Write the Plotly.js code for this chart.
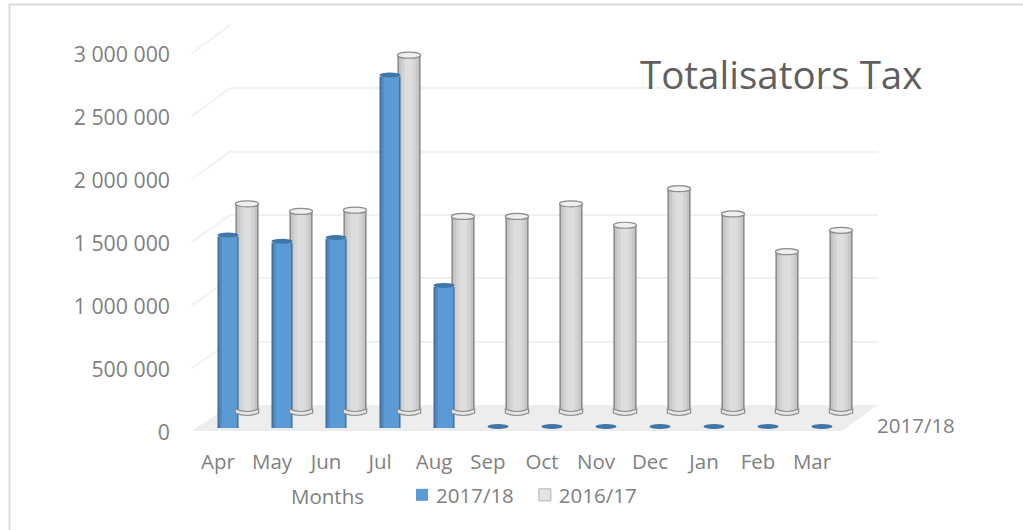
<!DOCTYPE html>
<html>
<head>
<meta charset="utf-8">
<script src="https://cdn.plot.ly/plotly-3.0.1.min.js"></script>
<style>html,body{margin:0;padding:0;background:#fff}#c{width:1023px;height:530px}</style>
</head>
<body>
<div id="c"></div>
<script>
var months = ['Apr','May','Jun','Jul','Aug','Sep','Oct','Nov','Dec','Jan','Feb','Mar'];
var values1718 = [1520000,1470000,1500000,2790000,1120000,0,0,0,0,0,0,0];
var values1617 = [1660000,1600000,1610000,2840000,1560000,1560000,1660000,1490000,1780000,1580000,1280000,1450000];
var tickVals = [0,500000,1000000,1500000,2000000,2500000,3000000];
var tickLabels = ['0','500 000','1 000 000','1 500 000','2 000 000','2 500 000','3 000 000'];
var nameA = '2017/18', nameB = '2016/17';
var W = 1023, H = 530;
var fx = function(p){return p/W;}, fy = function(p){return 1-p/H;};
var FONT = '"Open Sans", "Noto Sans", sans-serif', GREY = '#7f7f7f';
var yMax = 3000000;
var xr = [-0.5, 11.5];
var unitsPerPx = yMax/378, below = 10*unitsPerPx;

function dom(x0,x1){return [fx(x0),fx(x1)];}
function domY(bottom,top){return [fy(bottom),fy(top)];}
var hidden = {visible:true, showgrid:false, zeroline:false, showline:false, showticklabels:false, ticks:''};
function ax(o){return Object.assign({}, hidden, o);}

var idx = months.map(function(_,i){return i;});

function layers(xa, ya, values, defs, name){
  return defs.map(function(d,k){
    return {type:'bar', x:idx, y:values, xaxis:xa, yaxis:ya, name:name,
      width:d[1], offset:d[0], marker:{color:d[2], line:{width:0}},
      showlegend:false, hoverinfo:'skip'};
  });
}
var w1 = 0.39, w2 = 0.43;
var greyDefs = [
  [-w2/2, w2, '#8c8c8c'],
  [-w2/2+0.03, w2-0.06, '#c6c6c6'],
  [-w2/2+0.08, w2-0.16, '#d4d4d4'],
  [-w2/2+0.14, w2-0.28, '#dedede']
];
var blueDefs = [
  [-w1/2, w1, '#41719c'],
  [-w1/2+0.035, w1-0.06, '#4f8bc2'],
  [-w1/2+0.08, w1-0.11, '#5b9bd5']
];

var traces = [];
traces.push({type:'scatter', mode:'none', x:idx, y:idx.map(function(){return 0;}), xaxis:'x', yaxis:'y', showlegend:false, hoverinfo:'skip'});
traces = traces.concat(layers('x2','y2',values1617,greyDefs,nameB));
traces = traces.concat(layers('x3','y3',values1718,blueDefs,nameA));
traces.push({type:'scatter', mode:'none', x:months, y:months.map(function(){return 0;}), xaxis:'x4', yaxis:'y4', showlegend:false, hoverinfo:'skip'});
traces.push({type:'bar', x:[null], y:[null], xaxis:'x3', yaxis:'y3', name:nameA, marker:{color:'#5b9bd5'}, showlegend:true, hoverinfo:'skip'});
traces.push({type:'bar', x:[null], y:[null], xaxis:'x3', yaxis:'y3', name:nameB, marker:{color:'#e4e4e4', line:{color:'#b5b5b5', width:1}}, showlegend:true, hoverinfo:'skip'});

var shapes = [];
shapes.push({type:'path', xref:'paper', yref:'paper', layer:'below',
  path:'M'+fx(192)+','+fy(431)+' L'+fx(230)+','+fy(405)+' L'+fx(878)+','+fy(405)+' L'+fx(842)+','+fy(431)+' Z',
  fillcolor:'#ededed', line:{width:0}});
tickVals.forEach(function(v){
  var t = v/yMax;
  if (v === 0) return;
  shapes.push({type:'line', xref:'paper', yref:'paper', layer:'below',
    x0:fx(192), y0:fy(431-t*378), x1:fx(230), y1:fy(405-t*380),
    line:{color:'#f2f2f2', width:2}});
});
shapes.push({type:'line', xref:'paper', yref:'paper', layer:'below', x0:fx(9), x1:fx(1023), y0:fy(4.5), y1:fy(4.5), line:{color:'#dcdcdc', width:2}});
shapes.push({type:'line', xref:'paper', yref:'paper', layer:'below', x0:fx(9.5), x1:fx(9.5), y0:fy(4), y1:fy(530), line:{color:'#dcdcdc', width:2}});

var px = function(n){return n*unitsPerPx;};
values1617.forEach(function(v,i){
  shapes.push({type:'path', xref:'x2', yref:'y2', layer:'above',
    path:'M'+(i-w2/2)+','+px(4)+' L'+(i-w2/2)+','+px(0)+' Q'+i+','+px(-5)+' '+(i+w2/2)+','+px(0)+' L'+(i+w2/2)+','+px(4)+' Q'+i+','+px(-1)+' '+(i-w2/2)+','+px(4)+' Z',
    fillcolor:'#e6e6e6', line:{color:'#8c8c8c', width:1.2}});
});
values1617.forEach(function(v,i){
  shapes.push({type:'circle', xref:'x2', yref:'y2', layer:'above', x0:i-w2/2, x1:i+w2/2, y0:v-px(3), y1:v+px(3),
    fillcolor:'#efefef', line:{color:'#8c8c8c', width:1.2}});
});
values1718.forEach(function(v,i){
  shapes.push({type:'circle', xref:'x3', yref:'y3', layer:'above', x0:i-w1/2, x1:i+w1/2, y0:v-px(1), y1:v+px(4),
    fillcolor:'#3f76a8', line:{width:0}});
});

var layout = {
  width:W, height:H, margin:{l:0,r:0,t:0,b:0,pad:0}, autosize:false,
  paper_bgcolor:'#fff', plot_bgcolor:'rgba(0,0,0,0)', barmode:'overlay',
  font:{family:FONT, color:GREY, size:20.5},
  xaxis: ax({domain:dom(230,878), range:xr, anchor:'y'}),
  yaxis: ax({domain:domY(405,25), range:[0,yMax], anchor:'x', showgrid:true, gridcolor:'#f1f1f1', gridwidth:2, tickvals:tickVals}),
  xaxis2: ax({domain:dom(220,868), range:xr, anchor:'y2'}),
  yaxis2: ax({domain:domY(423,35), range:[-below,yMax], anchor:'x2'}),
  xaxis3: ax({domain:dom(201,849), range:xr, anchor:'y3'}),
  yaxis3: ax({domain:domY(438,50), range:[-below,yMax], anchor:'x3'}),
  xaxis4: ax({domain:dom(191,839), type:'category', categoryorder:'array', categoryarray:months, range:xr, anchor:'y4',
    showticklabels:true, tickfont:{family:FONT,size:20.5,color:GREY}, ticks:'', ticklabelstandoff:15, tickangle:0}),
  yaxis4: ax({domain:domY(432.5,54.5), range:[0,yMax], anchor:'x4', showticklabels:true, tickvals:tickVals, ticktext:tickLabels,
    tickfont:{family:FONT,size:21.3,color:GREY}, ticks:'', ticklabelstandoff:20}),
  shapes:shapes,
  annotations:[
    {xref:'paper', yref:'paper', x:fx(781), y:fy(74), text:'Totalisators Tax', showarrow:false, xanchor:'center', yanchor:'middle', font:{family:FONT, size:38.5, color:'#5f5f5f'}},
    {xref:'paper', yref:'paper', x:fx(327), y:fy(496), text:'Months', showarrow:false, xanchor:'center', yanchor:'middle', font:{family:FONT, size:20.5, color:GREY}},
    {xref:'paper', yref:'paper', x:fx(916), y:fy(425), text:'2017/18', showarrow:false, xanchor:'center', yanchor:'middle', font:{family:FONT, size:20.5, color:GREY}}
  ],
  legend:{orientation:'h', x:fx(396), y:fy(495), xanchor:'left', yanchor:'middle', bgcolor:'rgba(0,0,0,0)', font:{family:FONT,size:20.5,color:GREY}, traceorder:'normal', itemwidth:30}
};
Plotly.newPlot('c', traces, layout, {displayModeBar:false, staticPlot:true}).then(function(){
  document.querySelectorAll('.legend .legendpoints').forEach(function(g){
    g.setAttribute('transform','translate(6,0)');
  });
});
</script>
</body>
</html>
